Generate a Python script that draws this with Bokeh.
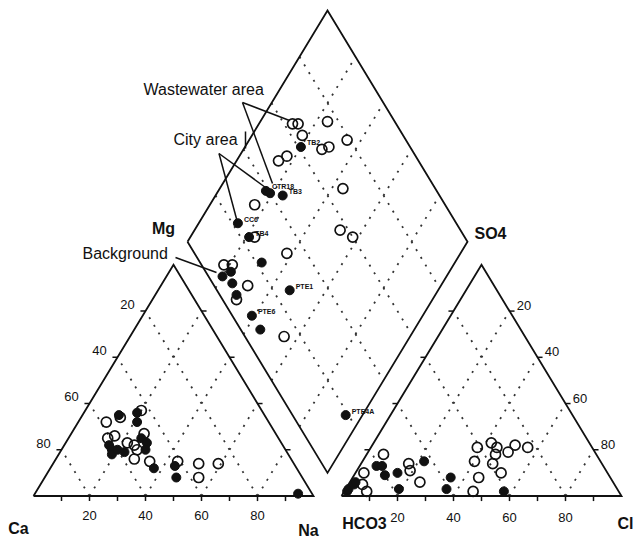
import numpy as np
from bokeh.plotting import figure
from bokeh.models import Range1d
from bokeh.core.properties import value
from bokeh.embed import file_html
from bokeh.resources import INLINE

# ---------------- data (percent of meq/L) ----------------
# cation triangle: Na(+K) % and Mg %  (Ca = 100 - Na - Mg)
cat_filled_na = [13, 19, 21, 16, 18, 19, 20, 23, 26, 29, 30, 37, 44, 47, 94]
cat_filled_mg = [35, 36, 32, 22, 20, 18, 20, 19, 25, 23, 20, 12, 13, 8, 1]
cat_open_na = [20, 10, 14, 14, 16, 22, 26, 27, 28, 34, 44, 52, 59, 55, 25]
cat_open_mg = [37, 32, 34, 25, 26, 23, 27, 20, 16, 15, 15, 14, 14, 8, 22]

# anion triangle: Cl % and SO4 %  (HCO3 = 100 - Cl - SO4)
an_filled_cl = [6, 8, 11, 15, 19, 22, 35, 36, 57, 1, 1, 2, 2]
an_filled_so4 = [13, 13, 9, 10, 3, 15, 8, 3, 2, 2, 3, 5, 6]
an_open_cl = [6, 3, 5, 8, 17, 19, 25, 46, 45, 40, 38, 42, 45, 46, 47, 50, 51, 56, 52]
an_open_so4 = [18, 10, 5, 2, 14, 11, 6, 2, 8, 15, 21, 23, 21, 18, 14, 19, 22, 21, 10]

# diamond: Na(+K) % and (Cl+SO4) %
dia_filled_na = [20, 17, 19, 24, 14, 21, 31, 22, 20, 25, 29, 47, 39, 45, 94]
dia_filled_scl = [61, 39, 40, 44, 22, 23, 22, 9, 5, 7, 6, 26, 7, 7, 19]
dia_filled_lab = ["TB2", "CTR18", "", "TB3", "CC6", "TB4", "", "", "", "", "",
                  "PTE1", "PTE6", "", "PTE4A"]
dia_open_na = [12, 14, 24, 18, 35, 28, 30, 17, 15, 44, 16, 52, 58, 23, 38, 18, 21, 31, 30, 55]
dia_open_scl = [63, 65, 76, 64, 79, 68, 71, 54, 50, 67, 32, 57, 60, 25, 33, 8, 11, 12, 5, 14]

grid_levels = [20, 40, 60, 80]
tick_labels = ["20", "40", "60", "80"]

# ---------------- geometry ----------------
H = np.sqrt(3) / 2
GAP = 10


def cat_xy(na, mg):
    na = np.asarray(na, float); mg = np.asarray(mg, float)
    return na + mg / 2, mg * H


def an_xy(cl, so4):
    cl = np.asarray(cl, float); so4 = np.asarray(so4, float)
    return 100 + GAP + cl + so4 / 2, so4 * H


def dia_xy(na, scl):
    na = np.asarray(na, float); scl = np.asarray(scl, float)
    return (100 + GAP + scl + na) / 2, (100 + GAP + scl - na) * H


# page-pixel layout helper -> data units
SX, SY = 2.8, 2.669
X0, Y0 = 33.0, 495.5


def P(px, py):
    return (px - X0) / SX, (Y0 - py) / SY


W, HT = 636, 542
x_start = (0 - X0) / SX
y_end = (Y0 - 0) / SY
p = figure(width=W, height=HT,
           x_range=Range1d(x_start, x_start + W / SX),
           y_range=Range1d(y_end - HT / SY, y_end),
           output_backend="svg", toolbar_location=None, min_border=0,
           x_axis_type=None, y_axis_type=None)
p.outline_line_color = None
p.background_fill_color = "white"
p.border_fill_color = "white"

INK = "#111111"
FONT = value("Liberation Sans")

# dotted grid
gx, gy = [], []
for k in grid_levels:
    for fx, fy in (cat_xy([k, k], [0, 100 - k]), cat_xy([k, 0], [0, k]),
                   an_xy([k, k], [0, 100 - k]), an_xy([k, 0], [0, k]),
                   dia_xy([0, 100], [k, k]), dia_xy([k, k], [0, 100])):
        gx.append(list(fx)); gy.append(list(fy))
p.multi_line(gx, gy, line_color="#333333", line_width=1.8, line_dash="2 7")

# outlines
ox, oy = [], []
for fx, fy in (cat_xy([0, 100, 0, 0], [0, 0, 100, 0]),
               an_xy([0, 100, 0, 0], [0, 0, 100, 0]),
               dia_xy([0, 100, 100, 0, 0], [0, 0, 100, 100, 0])):
    ox.append(list(fx)); oy.append(list(fy))
p.multi_line(ox, oy, line_color=INK, line_width=1.8, line_join="miter")

# ticks
tl_x, tl_y = 1.8, 1.9
tx, ty = [], []
for k in range(10, 100, 10):
    for fx, fy in (cat_xy(k, 0), an_xy(k, 0)):
        tx.append([float(fx), float(fx)]); ty.append([0.0, -tl_y])
for k in grid_levels:
    for fx, fy, d in ((*cat_xy(0, k), -1), (*cat_xy(100 - k, k), 1),
                      (*an_xy(0, k), -1), (*an_xy(100 - k, k), 1)):
        tx.append([float(fx), float(fx) + d * tl_x]); ty.append([float(fy), float(fy)])
p.multi_line(tx, ty, line_color=INK, line_width=1.5)

# tick labels
lvl = np.asarray(grid_levels, float)
bx1, by1 = cat_xy(lvl, 0 * lvl)
bx2, by2 = an_xy(lvl, 0 * lvl)
lx, ly = cat_xy(0 * lvl, 100 - lvl)
rx, ry = an_xy(lvl, 100 - lvl)
tick_x = list(bx1) + list(bx2) + list(lx - 6.4) + list(rx + 5.2)
tick_y = list(by1 - 7.4) + list(by2 - 7.9) + list(ly + 2.5) + list(ry + 2.0)
p.text(tick_x, tick_y, text=tick_labels * 4, text_font=FONT, text_font_size="13px",
       text_align="center", text_baseline="middle", text_color=INK)

# leader lines for annotations
lead = [(P(242, 102), P(289, 120)), (P(242, 102), P(272, 183)),
        (P(218.5, 153), P(237, 222)), (P(218.5, 153), P(265, 187)),
        (P(175, 257), P(216, 272)), (P(245, 131), P(245, 148))]
p.multi_line([[a[0], b[0]] for a, b in lead], [[a[1], b[1]] for a, b in lead],
             line_color=INK, line_width=1.5)

# points
fx, fy = cat_xy(cat_open_na, cat_open_mg)
ax_, ay_ = an_xy(an_open_cl, an_open_so4)
dx, dy = dia_xy(dia_open_na, dia_open_scl)
p.scatter(list(fx) + list(ax_) + list(dx), list(fy) + list(ay_) + list(dy),
          size=10, fill_color=None, line_color=INK, line_width=1.7)

fx, fy = cat_xy(cat_filled_na, cat_filled_mg)
ax_, ay_ = an_xy(an_filled_cl, an_filled_so4)
dx, dy = dia_xy(dia_filled_na, dia_filled_scl)
p.scatter(list(fx) + list(ax_) + list(dx), list(fy) + list(ay_) + list(dy),
          size=9, fill_color=INK, line_color=INK, line_width=1)

# sample labels
p.text(list(dx), list(dy), text=dia_filled_lab, x_offset=6, y_offset=-4,
       text_font=FONT, text_font_size="7px", text_font_style="bold",
       text_align="left", text_baseline="middle", text_color=INK)

# axis names
names = ["Ca", "Na", "HCO3", "SO4", "Mg"]
name_pos = [P(18, 528), P(308, 530), P(364, 523), P(490, 233), P(163, 228)]
p.text([q[0] for q in name_pos], [q[1] for q in name_pos], text=names,
       text_font=FONT, text_font_size="16px", text_font_style="bold",
       text_align="center", text_baseline="middle", text_color=INK)
cl_pos = P(617, 523)
p.text([cl_pos[0]], [cl_pos[1]], text=["Cl"],
       text_font=FONT, text_font_size="16px", text_font_style="bold",
       text_align="left", text_baseline="middle", text_color=INK)

# annotations
ann = ["Wastewater area", "City area", "Background"]
ann_pos = [P(143, 89), P(173, 139), P(82, 253)]
p.text([q[0] for q in ann_pos], [q[1] for q in ann_pos], text=ann,
       text_font=FONT, text_font_size="16px", text_align="left",
       text_baseline="middle", text_color=INK)

open("out.html", "w").write(file_html(p, INLINE))
